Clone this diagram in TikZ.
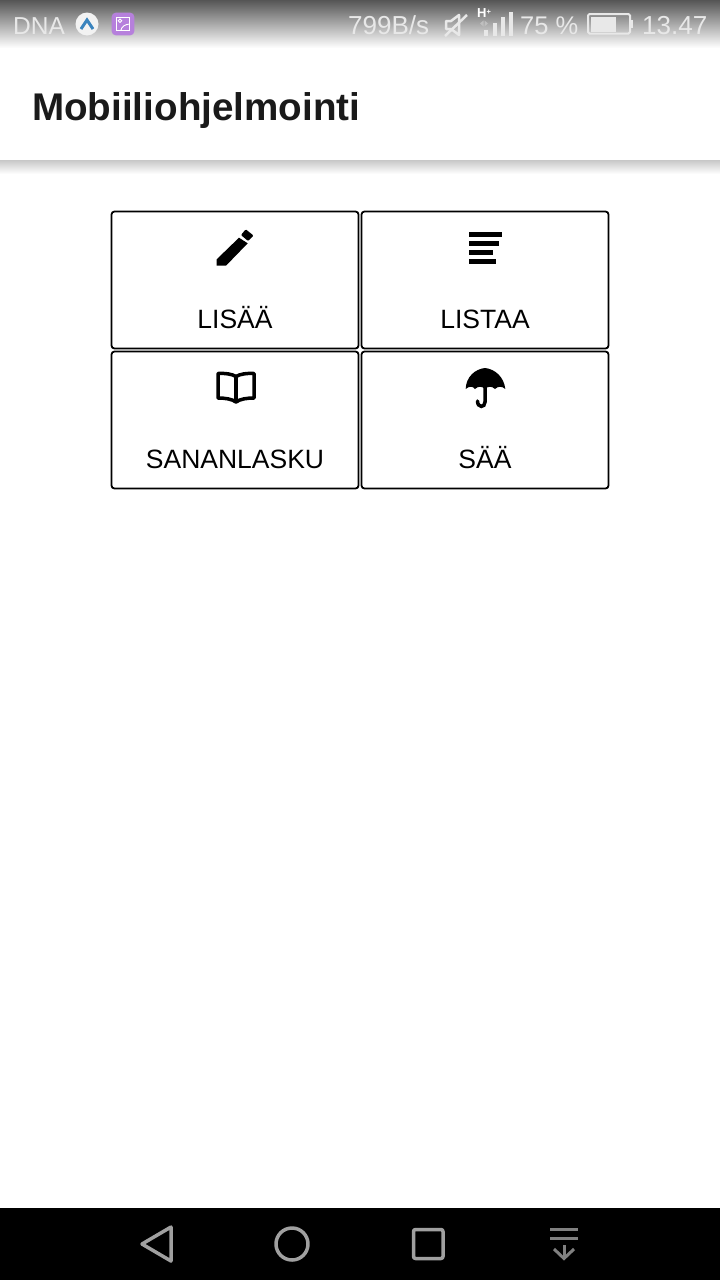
\documentclass[tikz,border=0pt]{standalone}
\usepackage{fontspec}
\setmainfont{Liberation Sans}
\definecolor{statusgray}{HTML}{555555}
\definecolor{statustext}{HTML}{E8E8E8}
\definecolor{navgray}{HTML}{A0A0A0}
\definecolor{titleblack}{HTML}{1A1A1A}
\definecolor{appblue}{HTML}{3A84BE}
\definecolor{apppurple}{HTML}{B680DC}
\tikzset{
	menubox/.style={draw=black,line width=1.8,rounded corners=3,minimum width=247,minimum height=137,inner sep=0},
	menulabel/.style={anchor=base,inner sep=0,font=\fontsize{26.5}{30}\selectfont},
	statuslabel/.style={anchor=base west,inner sep=0,text=statustext,font=\fontsize{26}{30}\selectfont},
	navicon/.style={draw=navgray,line width=3.5,line join=round}
}
\begin{document}
\begin{tikzpicture}[x=1pt,y=-1pt]
\useasboundingbox (0,0) rectangle (720,1280);
\fill[white] (0,0) rectangle (720,1280);
\shade[top color=statusgray,bottom color=white] (0,0) rectangle (720,48);
\shade[top color=black!22,bottom color=white] (0,160) rectangle (720,174);
\fill[black] (0,1208) rectangle (720,1280);
\node[statuslabel,font=\fontsize{24.5}{30}\selectfont] (carrier) at (13,34) {DNA};
\fill[black!5] (87,24) circle [radius=11.5];
\draw[appblue,line width=3] (81,29) -- (87,20) -- (93,29);
\fill[apppurple,rounded corners=4] (111.7,12.7) rectangle (134.3,35.3);
\draw[white,line width=0.9] (116.3,17) rectangle (129.8,30.5);
\draw[white,line width=0.9] (120,20.7) circle [radius=1.8];
\draw[white,line width=0.9] (120.7,30.5) .. controls (122,26) and (125,24.5) .. (129.8,24);
\node[statuslabel] (speed) at (348,34.5) {799B/s};
\draw[statustext,line width=2.5,line join=round] (446,21) -- (451,21) -- (459,15) -- (459,35) -- (451,29) -- (446,29) -- cycle;
\draw[statustext,line width=2.5] (445,36) -- (467,15);
\node[statuslabel,font=\bfseries\fontsize{13}{14}\selectfont,text=white] (hplus) at (477,17.5) {H\raisebox{3pt}{\fontsize{7.5}{8}\selectfont+}};
\fill[black!25] (483.5,20.5) -- (483.5,26.5) -- (480,23.5) -- cycle;
\fill[black!25] (484.5,20.5) -- (484.5,26.5) -- (488,23.5) -- cycle;
\fill[statustext] (484,30) rectangle (488,36);
\fill[statustext] (493,23) rectangle (497,36);
\fill[statustext] (501,17) rectangle (505,36);
\fill[statustext] (509,12) rectangle (513,36);
\node[statuslabel,font=\fontsize{25.5}{30}\selectfont] (battery) at (520,34.5) {75 \%};
\draw[statustext,line width=2,rounded corners=1.5] (588,14) rectangle (630,33.5);
\fill[statustext] (590.5,16.5) rectangle (616,31.5);
\fill[statustext] (630.7,20) rectangle (632.7,28);
\node[statuslabel] (clock) at (642,34.5) {13.47};
\node[anchor=base west,inner sep=0,text=titleblack,font=\bfseries\fontsize{38.6}{44}\selectfont] (title) at (32,120) {Mobiiliohjelmointi};
\node[menubox] (lisaabox) at (235,280) {};
\node[menubox] (listaabox) at (485,280) {};
\node[menubox] (sanabox) at (235,420) {};
\node[menubox] (saabox) at (485,420) {};
\node[menulabel] (lisaa) at (235,328) {LISÄÄ};
\node[menulabel] (listaa) at (485,328) {LISTAA};
\node[menulabel] (sana) at (235,468) {SANANLASKU};
\node[menulabel] (saa) at (485,468) {SÄÄ};
\fill[black] (216.7,259.3) -- (239,237.7) -- (247.7,243.3) -- (226,265.7) -- (216.7,265.7) -- cycle;
\fill[black,rounded corners=1] (245.7,229.3) -- (253.5,235.5) -- (248,241) -- (241,235) -- cycle;
\fill[black] (469,232) rectangle (502,237);
\fill[black] (469,241) rectangle (499,246);
\fill[black] (469,250) rectangle (493,255);
\fill[black] (469,259) rectangle (496,264);
\draw[black,line width=3.5,line join=round] (218,373.5) .. controls (225,373) and (232,374) .. (236,376.5) .. controls (240,374) and (247,373) .. (254,373.5) -- (254,398) .. controls (247,398) and (240,399) .. (236,402) .. controls (232,399) and (225,398) .. (218,398) -- cycle;
\draw[black,line width=3.5] (236,376.5) -- (236,402);
\fill[black] (465.7,389) .. controls (466,377) and (475,369) .. (485,368) .. controls (495,369) and (504,377) .. (505.3,389) .. controls (502,386) and (498,386) .. (495,389) .. controls (492,386) and (488,386) .. (485,389) .. controls (482,386) and (478,386) .. (475,389) .. controls (473,386) and (469,386) .. (465.7,389) -- cycle;
\draw[black,line width=3.5,line cap=round] (485,386) -- (485,402) .. controls (485,408) and (477.5,408) .. (477.5,401);
\draw[navicon] (142,1244) -- (171,1227) -- (171,1261) -- cycle;
\draw[navicon] (292,1244) circle [radius=16];
\draw[navicon,rounded corners=2] (413.5,1229.5) rectangle (443,1258.5);
\draw[draw=gray,line width=3] (550,1229.5) -- (578,1229.5);
\draw[draw=gray,line width=3] (550,1238.5) -- (578,1238.5);
\draw[draw=gray,line width=3] (564,1245) -- (564,1258);
\draw[draw=gray,line width=3] (554,1249) -- (564,1258.5) -- (574,1249);
\end{tikzpicture}
\end{document}
